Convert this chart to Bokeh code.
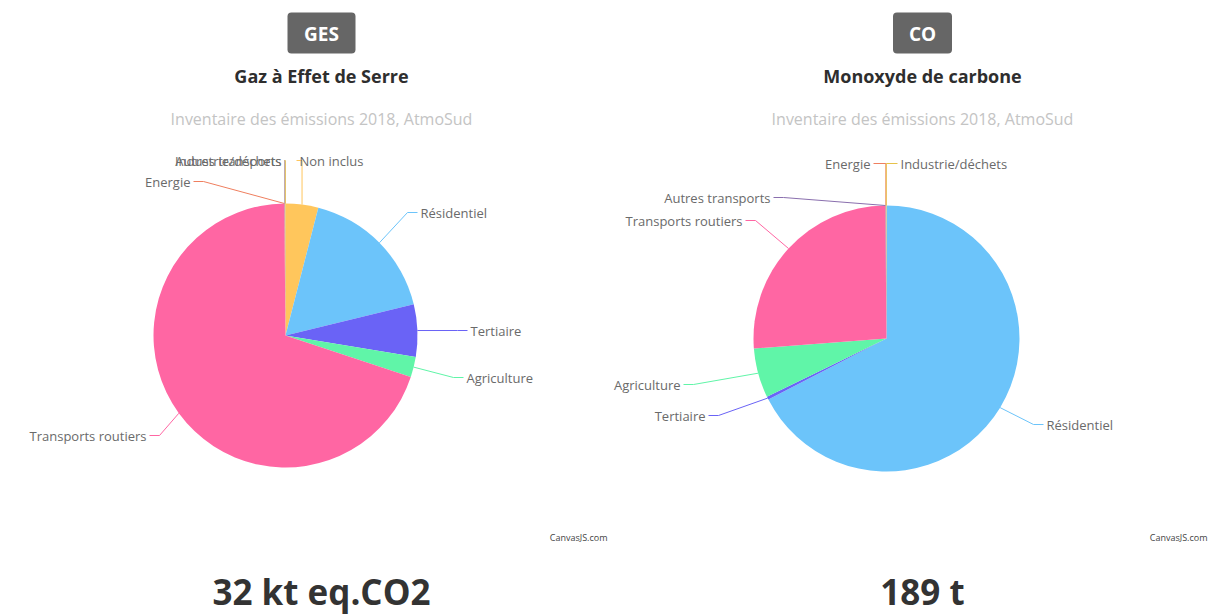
import math
from bokeh.plotting import figure
from bokeh.models import Range1d, BoxAnnotation
from bokeh.core.properties import value
from bokeh.embed import file_html
from bokeh.resources import INLINE

# ---------------- data ----------------
ges_categories = ["Non inclus", "Résidentiel", "Tertiaire", "Agriculture",
                  "Transports routiers", "Energie", "Autres transports", "Industrie/déchets"]
ges_values = [4.0, 17.2, 6.4, 2.5, 69.75, 0.05, 0.05, 0.05]

co_categories = ["Résidentiel", "Tertiaire", "Agriculture", "Transports routiers",
                 "Autres transports", "Energie", "Industrie/déchets"]
co_values = [67.4, 0.4, 6.0, 26.05, 0.05, 0.05, 0.05]

titles = ["Gaz à Effet de Serre", "Monoxyde de carbone"]
badges = ["GES", "CO"]
subtitle = "Inventaire des émissions 2018, AtmoSud"
totals = ["32 kt eq.CO2", "189 t"]

# ---------------- styles ----------------
COLORS = {
    "Non inclus": "#ffc65c",
    "Résidentiel": "#6cc4fa",
    "Tertiaire": "#6a63f6",
    "Agriculture": "#60f5a8",
    "Transports routiers": "#ff66a3",
    "Energie": "#ef7f5f",
    "Autres transports": "#8a6fae",
    "Industrie/déchets": "#e6c24a",
}
FONT = "Open Sans"

W, H = 1215, 616
p = figure(width=W, height=H, output_backend="svg", toolbar_location=None,
           x_range=Range1d(0, W), y_range=Range1d(0, H),
           min_border=0, outline_line_color=None)
p.axis.visible = False
p.grid.visible = False
p.background_fill_color = "white"
p.border_fill_color = "white"


def Y(s):
    # page pixel row -> data y
    return H - s


# label layout (page pixels): x, y, align
LEFT_LABELS = {
    "Non inclus": (299, 160, "left"),
    "Autres transports": (281, 160, "right"),
    "Industrie/déchets": (281, 160, "right"),
    "Energie": (190, 181, "right"),
    "Résidentiel": (420, 212, "left"),
    "Tertiaire": (470, 330, "left"),
    "Agriculture": (466, 377, "left"),
    "Transports routiers": (146, 435, "right"),
}
RIGHT_LABELS = {
    "Résidentiel": (1046, 424, "left"),
    "Tertiaire": (705, 415, "right"),
    "Agriculture": (680, 384, "right"),
    "Transports routiers": (742, 220, "right"),
    "Autres transports": (770, 197, "right"),
    "Energie": (870, 163, "right"),
    "Industrie/déchets": (900, 163, "left"),
}


def draw_pie(cx, cy, r, cats, vals, labels, side):
    total = sum(vals)
    cum = 0.0
    for cat, v in zip(cats, vals):
        a0 = cum / total * 2 * math.pi
        cum += v
        a1 = cum / total * 2 * math.pi
        p.wedge(x=[cx], y=[Y(cy)], radius=r,
                start_angle=math.pi / 2 - a0, end_angle=math.pi / 2 - a1,
                direction="clock", fill_color=COLORS[cat], line_color=None)
    # labels + connectors
    cum = 0.0
    for cat, v in zip(cats, vals):
        am = (cum + v / 2) / total * 2 * math.pi
        cum += v
        ax = cx + r * math.sin(am)
        ay = cy - r * math.cos(am)
        lx, ly, align = labels[cat]
        end_x = lx - 3 if align == "left" else lx + 3
        key = cat + "_" + side
        if cat == "Non inclus" or key in ("Autres transports_left", "Industrie/déchets_left",
                                           "Energie_right", "Industrie/déchets_right"):
            xs = [ax, ax, end_x]
            ys = [ay, ly, ly]
        else:
            mid_x = end_x + (-10 if align == "left" else 10)
            xs = [ax, mid_x, end_x]
            ys = [ay, ly, ly]
        p.line(x=xs, y=[Y(y) for y in ys], line_color=COLORS[cat], line_width=1)
        p.text(x=[lx], y=[Y(ly)], text=[cat], text_font=value(FONT),
               text_font_size="13px", text_color="#6a6a6a",
               text_align=align, text_baseline="middle")


draw_pie(285, 335, 132, ges_categories, ges_values, LEFT_LABELS, "left")
draw_pie(886, 338, 133, co_categories, co_values, RIGHT_LABELS, "right")

# headers
for cx, badge, title, total in zip([321, 922], badges, titles, totals):
    bw = 68 if len(badge) == 3 else 59
    p.add_layout(BoxAnnotation(left=cx - bw / 2, right=cx + bw / 2, bottom=Y(53), top=Y(12),
                               fill_color="#666666", fill_alpha=1, line_color=None,
                               border_radius=4, level="underlay"))
    p.text(x=[cx], y=[Y(33)], text=[badge], text_font=value(FONT), text_font_size="19px",
           text_font_style="bold", text_color="white", text_align="center",
           text_baseline="middle")
    p.text(x=[cx], y=[Y(75)], text=[title], text_font=value(FONT), text_font_size="18px",
           text_font_style="bold", text_color="#2e2e2e", text_align="center",
           text_baseline="middle")
    p.text(x=[cx], y=[Y(118)], text=[subtitle], text_font=value(FONT), text_font_size="16px",
           text_color="#c4c4c4", text_align="center", text_baseline="middle")
    p.text(x=[cx], y=[Y(591)], text=[total], text_font=value(FONT), text_font_size="35px",
           text_font_style="bold", text_color="#333333", text_align="center",
           text_baseline="middle")

# credits
for rx in [607, 1207]:
    p.text(x=[rx], y=[Y(537)], text=["CanvasJS.com"], text_font=value(FONT),
           text_font_size="9px", text_color="#444444", text_align="right",
           text_baseline="middle")

open("out.html", "w").write(file_html(p, INLINE))
